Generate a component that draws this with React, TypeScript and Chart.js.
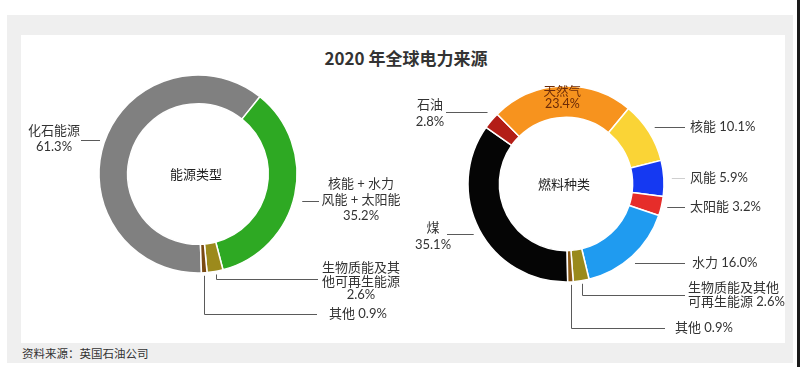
import React, { useEffect, useRef } from "react";
import { Chart, registerables } from "chart.js";

Chart.register(...registerables);

// ---------- DATA ----------
const typeLabels = ["化石能源", "核能 + 水力 + 风能 + 太阳能", "生物质能及其他可再生能源", "其他"];
const typeValues = [61.3, 35.2, 2.6, 0.9];
const typeColors = ["#808080", "#2ea923", "#9c8a1c", "#7a4a12"];

const fuelLabels = ["煤", "石油", "天然气", "核能", "风能", "太阳能", "水力", "生物质能及其他可再生能源", "其他"];
const fuelValues = [35.1, 2.8, 23.4, 10.1, 5.9, 3.2, 16.0, 2.6, 0.9];
const fuelColors = ["#050505", "#b31e17", "#f7931e", "#fad436", "#1539f2", "#e62d2a", "#1f9bf0", "#9a8a1c", "#8a5812"];

const titleText = "2020 年全球电力来源";
const sourceText = "资料来源：英国石油公司";
const typeCenterText = "能源类型";
const fuelCenterText = "燃料种类";

// ---------- LAYOUT (label placement relative to ring centre) ----------
type Leader =
  | { kind: "h"; y: number; x: number; gap: number; color?: string }
  | { kind: "elbow"; y: number; x: number; gap: number; color?: string }
  | { kind: "none" };

type LabelSpec = {
  index: number;
  lines: string[];
  x?: number;
  y?: number;
  lh: number;
  align: CanvasTextAlign;
  leader: Leader;
  inside?: number;
  color?: string;
  size?: number;
};

const typeLayout: LabelSpec[] = [
  { index: 0, lines: ["化石能源", "{v}"], x: -144, y: -43, lh: 16, align: "center", leader: { kind: "h", y: -34, x: -117, gap: 5 } },
  { index: 1, lines: ["核能 + 水力", "风能 + 太阳能", "{v}"], x: 163, y: 10, lh: 16, align: "center", leader: { kind: "h", y: 27, x: 121, gap: 9 } },
  { index: 2, lines: ["生物质能及其", "他可再生能源", "{v}"], x: 163, y: 94, lh: 13.5, align: "center", leader: { kind: "elbow", y: 105, x: 120, gap: 3 } },
  { index: 3, lines: ["其他 {v}"], x: 131, y: 140, lh: 16, align: "left", leader: { kind: "elbow", y: 140, x: 119, gap: 3 } },
];

const fuelLayout: LabelSpec[] = [
  { index: 0, lines: ["煤", "{v}"], x: -133, y: 44, lh: 17, align: "center", leader: { kind: "h", y: 50, x: -119, gap: 8 } },
  { index: 1, lines: ["石油", "{v}"], x: -136, y: -79, lh: 17, align: "center", leader: { kind: "h", y: -72, x: -120, gap: 12 } },
  { index: 2, lines: ["天然气", "{v}"], lh: 11.5, align: "center", leader: { kind: "none" }, inside: 0.88, color: "#6b2a08", size: 12.5 },
  { index: 3, lines: ["核能 {v}"], x: 124, y: -57, lh: 16, align: "left", leader: { kind: "h", y: -57, x: 119, gap: 9 } },
  { index: 4, lines: ["风能 {v}"], x: 124, y: -6, lh: 16, align: "left", leader: { kind: "h", y: -6, x: 119, gap: 8, color: "#cfcfcf" } },
  { index: 5, lines: ["太阳能 {v}"], x: 124, y: 23, lh: 16, align: "left", leader: { kind: "h", y: 23, x: 119, gap: 6 } },
  { index: 6, lines: ["水力 {v}"], x: 126, y: 79, lh: 16, align: "left", leader: { kind: "h", y: 79, x: 119, gap: 11 } },
  { index: 7, lines: ["生物质能及其他", "可再生能源 {v}"], x: 122, y: 104, lh: 14, align: "left", leader: { kind: "elbow", y: 111, x: 119, gap: 3 } },
  { index: 8, lines: ["其他 {v}"], x: 109, y: 144, lh: 16, align: "left", leader: { kind: "elbow", y: 144, x: 99, gap: 3 } },
];

const FONT_STACK = 'Lato, "Noto Sans CJK SC", sans-serif';

function makeLabelPlugin(values: number[], layout: LabelSpec[], centerText: string) {
  return {
    id: "donutLabels",
    afterDraw(chart: any) {
      const ctx: CanvasRenderingContext2D = chart.ctx;
      const meta = chart.getDatasetMeta(0);
      if (!meta || !meta.data.length) return;
      const first = meta.data[0].getProps(["x", "y", "outerRadius"], true);
      const cx = first.x;
      const cy = first.y;
      const R = first.outerRadius;
      ctx.save();
      // centre text
      ctx.fillStyle = "#222";
      ctx.font = `13px ${FONT_STACK}`;
      ctx.textAlign = "center";
      ctx.textBaseline = "middle";
      ctx.fillText(centerText, cx - 2, cy + 1);

      for (const spec of layout) {
        const arc = meta.data[spec.index].getProps(["x", "y", "startAngle", "endAngle", "outerRadius", "innerRadius"], true);
        const mid = (arc.startAngle + arc.endAngle) / 2;
        const v = values[spec.index].toFixed(1) + "%";
        let tx: number;
        let ty: number;
        if (spec.inside) {
          const r = arc.outerRadius * spec.inside;
          tx = cx + Math.cos(mid) * r;
          ty = cy + Math.sin(mid) * r - ((spec.lines.length - 1) * spec.lh) / 2;
        } else {
          tx = cx + (spec.x as number);
          ty = cy + (spec.y as number);
        }
        // leader line
        const ld = spec.leader;
        if (ld.kind !== "none") {
          ctx.strokeStyle = (ld as any).color || "#5a5a5a";
          ctx.lineWidth = 1;
          ctx.beginPath();
          if (ld.kind === "h") {
            const ly = Math.round(cy + ld.y) + 0.5;
            const side = ld.x < 0 ? -1 : 1;
            const dx = Math.sqrt(Math.max(R * R - ld.y * ld.y, 0));
            ctx.moveTo(cx + side * (dx + ld.gap), ly);
            ctx.lineTo(cx + ld.x, ly);
          } else {
            const px = Math.round(cx + Math.cos(mid) * (R + ld.gap)) + 0.5;
            const py = cy + Math.sin(mid) * (R + ld.gap);
            const ly = Math.round(cy + ld.y) + 0.5;
            ctx.moveTo(px, py);
            ctx.lineTo(px, ly);
            ctx.lineTo(cx + ld.x, ly);
          }
          ctx.stroke();
        }
        // text
        ctx.fillStyle = spec.color || "#333";
        ctx.font = `${spec.size || 13}px ${FONT_STACK}`;
        ctx.textAlign = spec.align;
        ctx.textBaseline = "middle";
        spec.lines.forEach((line, i) => {
          ctx.fillText(line.replace("{v}", v), tx, ty + i * spec.lh);
        });
      }
      ctx.restore();
    },
  };
}

type DonutProps = {
  labels: string[];
  values: number[];
  colors: string[];
  layout: LabelSpec[];
  centerText: string;
  padding: { left: number; right: number; top: number; bottom: number };
  radius: number;
  cutout: string;
  rotation: number;
};

function Donut(props: DonutProps) {
  const ref = useRef<HTMLCanvasElement | null>(null);
  useEffect(() => {
    if (!ref.current) return;
    const chart = new Chart(ref.current, {
      type: "doughnut",
      data: {
        labels: props.labels,
        datasets: [
          {
            data: props.values,
            backgroundColor: props.colors,
            borderColor: "#ffffff",
            borderWidth: 1.5,
          },
        ],
      },
      options: {
        responsive: false,
        animation: false,
        events: [],
        radius: props.radius,
        cutout: props.cutout,
        rotation: props.rotation,
        layout: { padding: props.padding },
        plugins: {
          legend: { display: false },
          tooltip: { enabled: false },
          title: { display: false },
        },
      } as any,
      plugins: [makeLabelPlugin(props.values, props.layout, props.centerText)],
    });
    return () => chart.destroy();
  }, []);
  return (
    <canvas
      ref={ref}
      width={800}
      height={367}
      style={{ position: "absolute", left: 0, top: 0, width: 800, height: 367 }}
    />
  );
}

export default function App() {
  return (
    <div style={{ position: "absolute", left: 0, top: 0, width: 800, height: 367, background: "#fff", overflow: "hidden" }}>
      <div style={{ position: "absolute", left: 7, top: 15, width: 786, height: 348, background: "#efefef" }} />
      <div style={{ position: "absolute", left: 21, top: 35, width: 764, height: 308, background: "#ffffff" }} />
      <div style={{ position: "absolute", left: 797, top: 0, width: 3, height: 367, background: "#1a1a1a" }} />
      <div
        style={{
          position: "absolute",
          left: 306,
          top: 47,
          width: 200,
          textAlign: "center",
          font: 'bold 17px "Noto Sans CJK SC", sans-serif',
          lineHeight: "22px",
          color: "#333",
          whiteSpace: "nowrap",
        }}
      >
        {titleText}
      </div>
      <div
        style={{
          position: "absolute",
          left: 22,
          top: 345,
          font: '11.5px "Noto Sans CJK SC", sans-serif',
          lineHeight: "16px",
          color: "#333",
          whiteSpace: "nowrap",
        }}
      >
        {sourceText}
      </div>
      <Donut
        labels={typeLabels}
        values={typeValues}
        colors={typeColors}
        layout={typeLayout}
        centerText={typeCenterText}
        padding={{ left: 0, right: 404, top: 0, bottom: 19 }}
        radius={99}
        cutout="71%"
        rotation={178}
      />
      <Donut
        labels={fuelLabels}
        values={fuelValues}
        colors={fuelColors}
        layout={fuelLayout}
        centerText={fuelCenterText}
        padding={{ left: 332, right: 0, top: 1, bottom: 0 }}
        radius={98}
        cutout="68%"
        rotation={179}
      />
    </div>
  );
}
